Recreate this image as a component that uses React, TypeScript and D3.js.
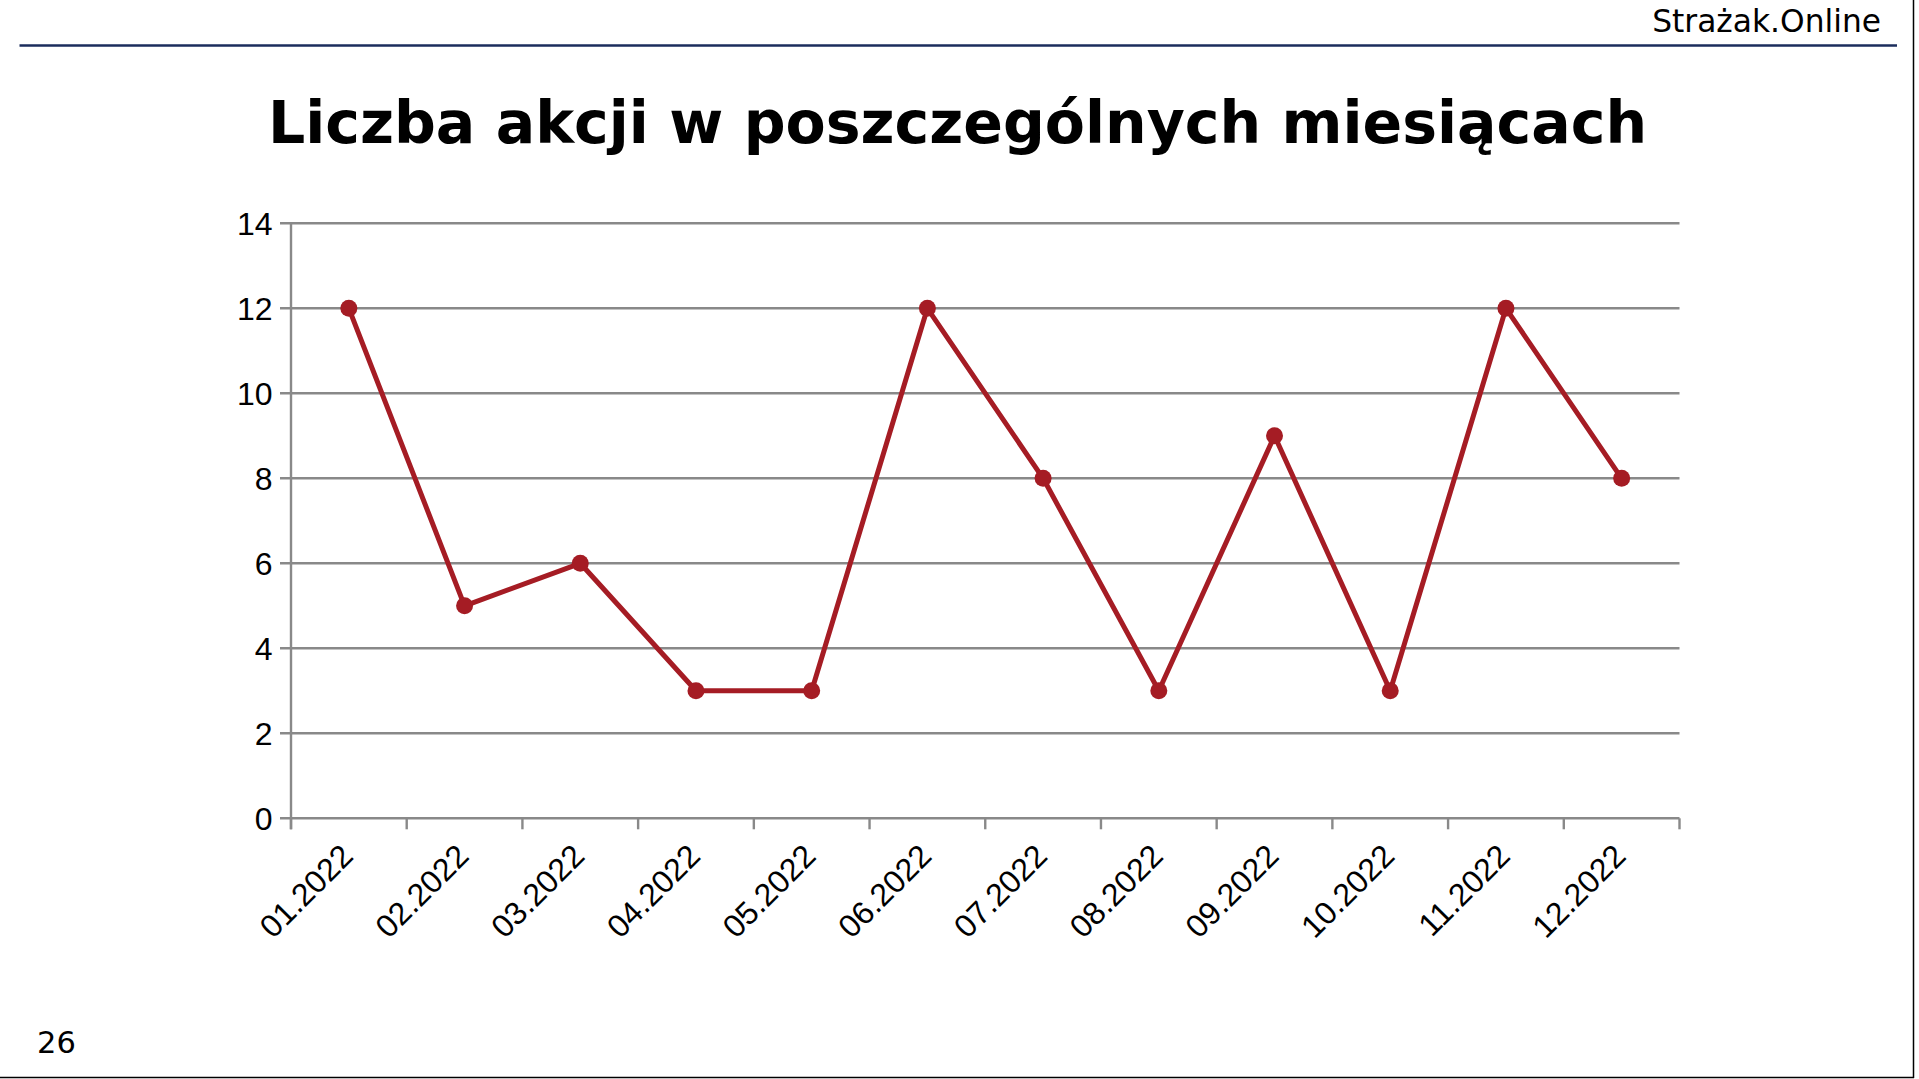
import { useEffect, useRef } from "react";
import * as d3 from "d3";

const W = 1919;
const H = 1079;

// dane z wykresu
const months = [
  "01.2022", "02.2022", "03.2022", "04.2022", "05.2022", "06.2022",
  "07.2022", "08.2022", "09.2022", "10.2022", "11.2022", "12.2022",
];
const counts = [12, 5, 6, 3, 3, 12, 8, 3, 9, 3, 12, 8];
const yTicks = [0, 2, 4, 6, 8, 10, 12, 14];

const chartTitle = "Liczba akcji w poszczególnych miesiącach";
const brand = "Strażak.Online";
const pageNo = "26";

export default function App() {
  const ref = useRef<SVGSVGElement | null>(null);

  useEffect(() => {
    if (!ref.current) return;
    const svg = d3.select(ref.current);
    svg.selectAll("*").remove();

    const left = 291, right = 1679.5, top = 223.3, bottom = 818.3;

    const x = d3.scaleBand<string>().domain(months).range([left, right]);
    const y = d3.scaleLinear().domain([0, 14]).range([bottom, top]);

    svg.append("rect").attr("width", W).attr("height", H).attr("fill", "white");

    // nagłówek
    svg.append("text")
      .attr("x", 1881).attr("y", 32)
      .attr("text-anchor", "end")
      .style("font-family", "'DejaVu Sans'")
      .style("font-size", "31.3px")
      .attr("fill", "#000")
      .text(brand);
    svg.append("line")
      .attr("x1", 19.5).attr("x2", 1897)
      .attr("y1", 45.5).attr("y2", 45.5)
      .attr("stroke", "#1b2d5c").attr("stroke-width", 2.5);

    // tytuł
    svg.append("text")
      .attr("x", 957.5).attr("y", 143)
      .attr("text-anchor", "middle")
      .style("font-family", "'DejaVu Sans'")
      .style("font-weight", 700)
      .style("font-size", "58.5px")
      .text(chartTitle);

    const g = svg.append("g");
    const grid = "#898989";

    // siatka pozioma + kreski osi Y
    g.selectAll("line.grid")
      .data(yTicks)
      .join("line")
      .attr("class", "grid")
      .attr("x1", left - 11).attr("x2", right)
      .attr("y1", (d) => y(d)).attr("y2", (d) => y(d))
      .attr("stroke", grid).attr("stroke-width", 2.4);

    g.append("line")
      .attr("x1", left).attr("x2", left)
      .attr("y1", top).attr("y2", bottom + 11)
      .attr("stroke", grid).attr("stroke-width", 2.4);

    // kreski osi X
    const xEdges = months.map((m) => x(m)!).concat([right]);
    g.selectAll("line.xt")
      .data(xEdges)
      .join("line")
      .attr("class", "xt")
      .attr("x1", (d) => d).attr("x2", (d) => d)
      .attr("y1", bottom).attr("y2", bottom + 11)
      .attr("stroke", grid).attr("stroke-width", 2.4);

    // etykiety Y
    g.selectAll("text.yl")
      .data(yTicks)
      .join("text")
      .attr("class", "yl")
      .attr("x", left - 18.5)
      .attr("y", (d) => y(d))
      .attr("dy", "0.36em")
      .attr("text-anchor", "end")
      .style("font-family", "'Liberation Sans'")
      .style("font-size", "32px")
      .text((d) => d);

    // etykiety X, obrócone
    g.selectAll("text.xl")
      .data(months)
      .join("text")
      .attr("class", "xl")
      .attr("transform", (d) => `translate(${x(d)! + x.bandwidth() / 2 + 6},858) rotate(-45)`)
      .attr("text-anchor", "end")
      .style("font-family", "'Liberation Sans'")
      .style("font-size", "32px")
      .text((d) => d);

    // linia danych
    const color = "#a51c24";
    const line = d3.line<number>()
      .x((_, i) => x(months[i])! + x.bandwidth() / 2)
      .y((d) => y(d));

    g.append("path")
      .datum(counts)
      .attr("d", line)
      .attr("fill", "none")
      .attr("stroke", color)
      .attr("stroke-width", 5)
      .attr("stroke-linejoin", "round");

    g.selectAll("circle")
      .data(counts)
      .join("circle")
      .attr("cx", (_, i) => x(months[i])! + x.bandwidth() / 2)
      .attr("cy", (d) => y(d))
      .attr("r", 8.5)
      .attr("fill", color);

    // numer strony
    svg.append("text")
      .attr("x", 37).attr("y", 1052.5)
      .style("font-family", "'DejaVu Sans'")
      .style("font-size", "30.5px")
      .text(pageNo);

    // ramka slajdu (prawa i dolna krawędź)
    svg.append("line")
      .attr("x1", 1913.5).attr("x2", 1913.5).attr("y1", 0).attr("y2", 1078)
      .attr("stroke", "#000").attr("stroke-width", 1.5);
    svg.append("line")
      .attr("x1", 0).attr("x2", 1914).attr("y1", 1077.5).attr("y2", 1077.5)
      .attr("stroke", "#000").attr("stroke-width", 1.5);
  }, []);

  return (
    <svg
      ref={ref}
      width={W}
      height={H}
      style={{ position: "fixed", left: 0, top: 0, display: "block" }}
    />
  );
}
